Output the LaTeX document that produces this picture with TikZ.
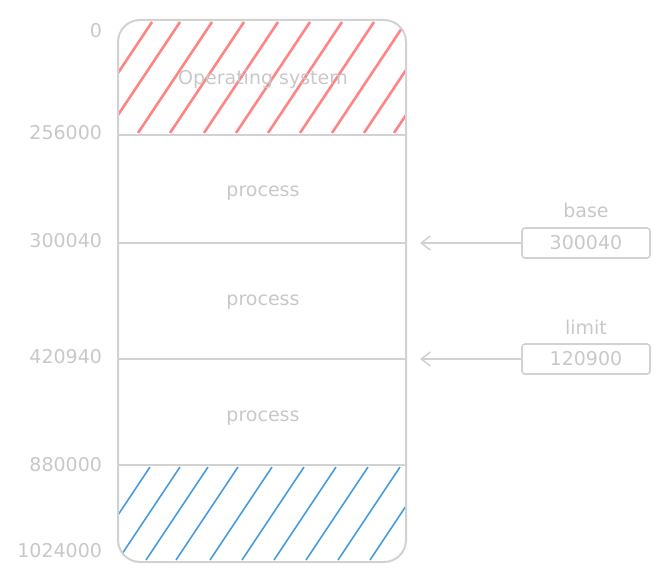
\documentclass[tikz,border=0pt]{standalone}
\usepackage{fontspec}
\setmainfont{DejaVu Sans}
\usetikzlibrary{positioning,arrows.meta}
\definecolor{sketchgray}{HTML}{D2D2D2}
\definecolor{labelgray}{HTML}{C8C8C8}
\definecolor{osred}{HTML}{FF8383}
\definecolor{freeblue}{HTML}{4A9BE2}
\begin{document}
\begin{tikzpicture}[x=1pt,y=-1pt,line width=2pt,draw=sketchgray,font=\fontsize{19}{21}\selectfont,text=labelgray]
	\tikzstyle{addr} =[anchor=east,inner sep=0pt] % addr = address on the left
	\tikzstyle{seg} =[inner sep=0pt] % seg = text inside a segment
	\tikzstyle{reg} =[draw=sketchgray,rounded corners=3pt,line width=1.6pt,minimum width=128pt,minimum height=30pt,inner sep=0pt] % reg = register box
	\useasboundingbox (0,0) rectangle (669,586);
	% hatch of the operating system
	\begin{scope}
		\clip[rounded corners=22pt] (118,20) rectangle (406,562);
		\clip (118,20) rectangle (406,135);
		\foreach \x in {-40,-12,20,52,86,118,150,182,214,246,276,306,338,368,398}
			\draw[osred,line width=2.6pt] (118+\x,133) -- (118+\x+74,22);
	\end{scope}
	% hatch of the free space
	\begin{scope}
		\clip[rounded corners=22pt] (118,20) rectangle (406,562);
		\clip (118,465) rectangle (406,562);
		\foreach \x in {-30,0,28,58,92,124,156,188,220,252,282,312,344}
			\draw[freeblue,line width=1.6pt] (118+\x,560) -- (118+\x+62,467);
	\end{scope}
	% memory
	\draw[rounded corners=22pt] (118,20) rectangle (406,562);
	\draw (118,135) -- (406,135);
	\draw (118,243) -- (406,243);
	\draw (118,359) -- (406,359);
	\draw (118,465) -- (406,465);
	\node[seg] (os) at (263,79) {Operating system};
	\node[seg] (p1) at (263,193) {process};
	\node[seg] (p2) at (263,302) {process};
	\node[seg] (p3) at (263,418) {process};
	% addresses
	\node[addr] (a0) at (103,31) {0};
	\node[addr] (a1) at (103,133) {256000};
	\node[addr] (a2) at (103,241) {300040};
	\node[addr] (a3) at (103,357) {420940};
	\node[addr] (a4) at (103,465) {880000};
	\node[addr] (a5) at (103,551) {1024000};
	% registers
	\node[reg] (base) at (586,243) {300040};
	\node[reg] (limit) at (586,359) {120900};
	\node[seg,above=8pt of base] (basename) {base};
	\node[seg,above=8pt of limit] (limitname) {limit};
	\coordinate (basetip) at (420,243);
	\coordinate (limittip) at (420,359);
	\draw[-{Straight Barb[length=9pt,width=14pt]},line width=1.6pt] (base) -- (basetip);
	\draw[-{Straight Barb[length=9pt,width=14pt]},line width=1.6pt] (limit) -- (limittip);
\end{tikzpicture}
\end{document}
